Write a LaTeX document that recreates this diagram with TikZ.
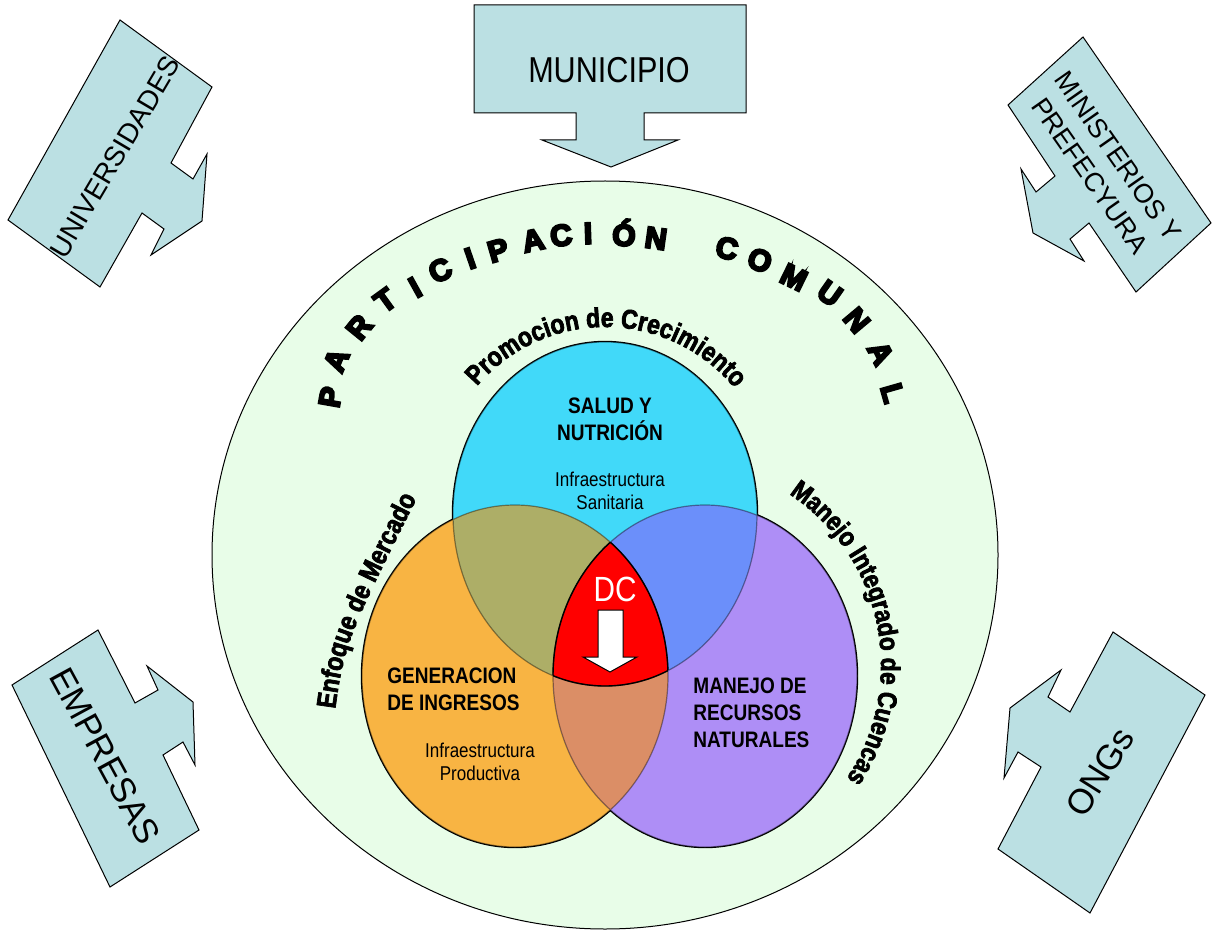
\documentclass[tikz,border=0pt]{standalone}
\usepackage{fontspec}
\setmainfont{Liberation Sans}
\newfontfamily\narrowfont[FakeStretch=0.85]{Liberation Sans}
\usetikzlibrary{decorations.text}

\definecolor{comunal}{HTML}{E8FDE8}
\definecolor{calloutblue}{HTML}{BBE0E3}
\definecolor{salud}{HTML}{41D9F9}
\definecolor{ingresos}{HTML}{F8B443}
\definecolor{recursos}{HTML}{AE8EF6}
\definecolor{saludingresos}{HTML}{ADAE67}
\definecolor{saludrecursos}{HTML}{6B8FFA}
\definecolor{ingresosrecursos}{HTML}{DB8E66}

% letra muy gruesa (relleno y trazo)
\makeatletter
\newcommand{\trazo}{\pgfsys@invoke{2 Tr 1.1 w}}
\newcommand{\trazofino}{\pgfsys@invoke{2 Tr 0.35 w}}
\makeatother

\tikzstyle{callout}=[fill=calloutblue, draw=black, line width=0.5pt]
\tikzstyle{calloutlabel}=[inner sep=0pt, align=center, font=\fontsize{14}{17}\selectfont]
\tikzstyle{comunalletter}=[inner sep=0pt, text height=10.7pt, text depth=0pt,
font=\bfseries\fontsize{15}{16}\selectfont]
\tikzstyle{venntitle}=[inner sep=0pt, align=center, font=\narrowfont\bfseries\fontsize{11.2}{13.5}\selectfont]
\tikzstyle{venntext}=[inner sep=0pt, align=center, font=\narrowfont\fontsize{10}{11.5}\selectfont]
\tikzstyle{arclabel}=[decorate, decoration={text along path, text align=center}]

\newcommand{\saludshape}{(605,514) ellipse [x radius=152, y radius=172]}
\newcommand{\ingresosshape}{(515,676) ellipse [x radius=153, y radius=171]}
\newcommand{\recursosshape}{(705,676) ellipse [x radius=152, y radius=171]}

\begin{document}
\begin{tikzpicture}[x=0.5pt, y=-0.5pt]
    \useasboundingbox (0,0) rectangle (1214,930);

    % actores externos
    \draw[callout] (474,5) -- (746,5) -- (746,113) -- (644,113) -- (644,140) -- (678,140)
        -- (611,167) -- (542,140) -- (576,140) -- (576,113) -- (474,113) -- cycle;
    \node[calloutlabel, font=\narrowfont\fontsize{18}{20}\selectfont] (municipio) at (609,70) {MUNICIPIO};

    \draw[callout] (120,20) -- (212,87) -- (171,163) -- (193,179) -- (207,154) -- (202,221)
        -- (151,255) -- (164,229) -- (142,213) -- (100,287) -- (8,220) -- cycle;
    \node[calloutlabel, rotate=59.4] (universidades) at (115,157) {UNIVERSIDADES};

    \draw[callout] (1083,37) -- (1211,223) -- (1136,292) -- (1089,223) -- (1070,239) -- (1084,261)
        -- (1033,233) -- (1021,169) -- (1036,192) -- (1055,176) -- (1008,105) -- cycle;
    \node[calloutlabel, rotate=-55, font=\fontsize{13.4}{17}\selectfont] (ministerios) at (1104,166) {MINISTERIOS Y\\PREFECYURA};

    \draw[callout] (98,630) -- (135,703) -- (158,690) -- (147,666) -- (193,702) -- (195,765)
        -- (183,742) -- (163,755) -- (199,830) -- (110,887) -- (12,685) -- cycle;
    \node[calloutlabel, rotate=-61.5, font=\fontsize{17.5}{20}\selectfont] (empresas) at (105,756) {EMPRESAS};

    \draw[callout] (1113,632) -- (1205,695) -- (1090,913) -- (998,849) -- (1041,767) -- (1018,752)
        -- (1004,778) -- (1010,708) -- (1061,670) -- (1048,697) -- (1070,712) -- cycle;
    \node[calloutlabel, rotate=57.7, font=\fontsize{17.5}{20}\selectfont] (ongs) at (1100,772) {ONGs};

    % participacion comunal
    \filldraw[fill=comunal, draw=black, line width=0.5pt] (605,555) ellipse [x radius=393, y radius=374];

    \foreach \x/\y/\a/\l [count=\i] in {330/397/80/P, 336/360/67/A, 359/327/51/R, 385/300/36/T,
        415/287/29/I, 440/270/26/C, 470/258/19/I, 498/250/16/P, 533/240/12/A, 561/235/7/C,
        588/233/2/I, 624/235/-4/Ó, 656/238/-8/N, 727/248/-13/C, 760/260/-22/O, 794/277/-26/M,
        830/293/-35/U, 857/320/-50/N, 881/353/-63/A, 893/393/-74/L}
        \node[comunalletter, rotate=\a] (letra\i) at (\x,\y) {\trazo\l};

    % diagrama de venn
    \draw[line width=1.2pt] \saludshape \ingresosshape \recursosshape;
    \fill[salud] \saludshape;
    \fill[ingresos] \ingresosshape;
    \fill[recursos] \recursosshape;
    \begin{scope}
        \clip \saludshape;
        \fill[saludingresos] \ingresosshape;
        \fill[saludrecursos] \recursosshape;
    \end{scope}
    \begin{scope}
        \clip \ingresosshape;
        \fill[ingresosrecursos] \recursosshape;
        \clip \saludshape;
        \fill[red] \recursosshape;
    \end{scope}
    \draw[black, draw opacity=0.4, line width=0.6pt] \saludshape \ingresosshape \recursosshape;
    \begin{scope}
        \clip \saludshape;
        \clip \ingresosshape;
        \draw[line width=0.7pt] \recursosshape;
    \end{scope}
    \begin{scope}
        \clip \saludshape;
        \clip \recursosshape;
        \draw[line width=0.7pt] \ingresosshape;
    \end{scope}
    \begin{scope}
        \clip \ingresosshape;
        \clip \recursosshape;
        \draw[line width=0.7pt] \saludshape;
    \end{scope}

    % textos en arco
    \path[arclabel, decoration={text={|\narrowfont\bfseries\fontsize{13.6}{15}\selectfont\trazofino|Promocion de Crecimiento}}]
        ([shift={(605,495)}]-144.5:168) arc [start angle=-144.5, end angle=-34.5, radius=168];
    \path[arclabel, decoration={text={|\narrowfont\bfseries\fontsize{13.6}{15}\selectfont\trazofino|Enfoque de Mercado}}]
        (333,725) .. controls (344,643) .. (424,484);
    \path[arclabel, decoration={text={|\narrowfont\bfseries\fontsize{13.4}{15}\selectfont\trazofino|Manejo Integrado de Cuencas}}]
        ([shift={(676,665)}]-61.4:205) arc [start angle=-61.4, end angle=38.6, radius=205];

    % textos internos
    \node[venntitle] (saludnutricion) at (610,419) {SALUD Y\\NUTRICIÓN};
    \node[venntext] (sanitaria) at (610,491) {Infraestructura\\Sanitaria};
    \node[venntitle, anchor=west, align=left] (generacion) at (387,689.5) {GENERACION\\DE INGRESOS};
    \node[venntext] (productiva) at (480,761.5) {Infraestructura\\Productiva};
    \node[venntitle, anchor=west, align=left] (manejo) at (693,713) {MANEJO DE\\RECURSOS\\NATURALES};

    % desarrollo comunal
    \draw[fill=white, draw=black, line width=0.5pt] (598,610) -- (623,610) -- (623,657) -- (637,657)
        -- (610,672) -- (583,657) -- (598,657) -- cycle;
    \node[inner sep=0pt, text=white, font=\narrowfont\fontsize{17.5}{20}\selectfont] (dc) at (615,589.5) {DC};
\end{tikzpicture}
\end{document}
